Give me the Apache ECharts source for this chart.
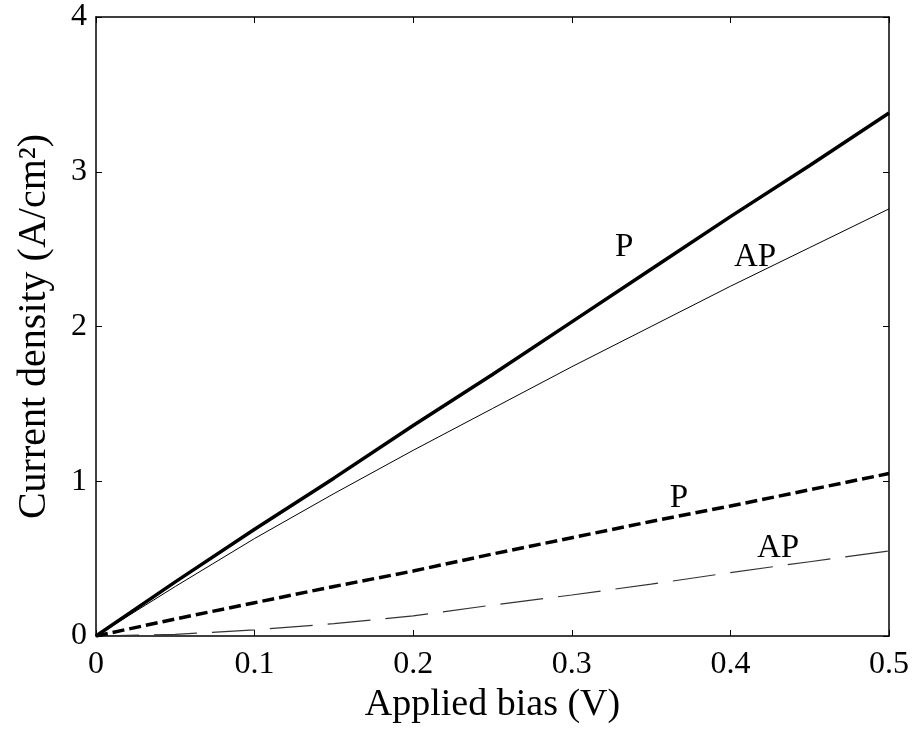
<!DOCTYPE html>
<html>
<head>
<meta charset="utf-8">
<script src="https://cdn.jsdelivr.net/npm/echarts@6/dist/echarts.min.js"></script>
<style>
html,body{margin:0;padding:0;background:#fff;}
#chart{width:916px;height:729px;}
</style>
</head>
<body>
<div id="chart"></div>
<script>
// Applied bias (V)
var biasV = [0, 0.05, 0.1, 0.15, 0.2, 0.25, 0.3, 0.35, 0.4, 0.45, 0.5];
// Current density (A/cm^2)
var solidP  = [0, 0.35, 0.69, 1.02, 1.36, 1.69, 2.03, 2.37, 2.71, 3.04, 3.38];
var solidAP = [0, 0.32, 0.63, 0.92, 1.20, 1.47, 1.74, 2.00, 2.26, 2.51, 2.76];
var dashP   = [0, 0.11, 0.215, 0.32, 0.42, 0.53, 0.635, 0.74, 0.84, 0.945, 1.05];
var dashAP  = [0, 0.01, 0.04, 0.08, 0.13, 0.20, 0.265, 0.335, 0.41, 0.48, 0.55];
// curve annotations: [bias, density, text]
var annotations = [
  [0.333, 2.51, 'P'],
  [0.4155, 2.45, 'AP'],
  [0.3676, 0.89, 'P'],
  [0.43, 0.565, 'AP']
];
var xTicks = {min: 0, max: 0.5, interval: 0.1};
var yTicks = {min: 0, max: 4, interval: 1};

function pairs(xs, ys){ return xs.map(function(x,i){ return [x, ys[i]]; }); }

var font = '"Liberation Serif", "Times New Roman", serif';
var chart = echarts.init(document.getElementById('chart'), null, {renderer:'canvas'});

function mirrorAxis(pos){
  var isX = pos === 'top';
  return {
    type:'value', position: pos,
    min: isX ? xTicks.min : yTicks.min,
    max: isX ? xTicks.max : yTicks.max,
    interval: isX ? xTicks.interval : yTicks.interval,
    axisLine:{show:true, onZero:false, lineStyle:{color:'#000', width:1.5}},
    axisTick:{show:true, inside:true, length:6, lineStyle:{color:'#000', width:1}},
    axisLabel:{show:false},
    splitLine:{show:false}
  };
}

chart.setOption({
  animation:false,
  backgroundColor:'#fff',
  grid:{left:96, top:17, right:27, bottom:88, containLabel:false},
  xAxis:[{
    type:'value', position:'bottom',
    min:xTicks.min, max:xTicks.max, interval:xTicks.interval,
    name:'Applied bias (V)', nameLocation:'middle', nameGap:50,
    nameTextStyle:{fontFamily:font, fontSize:38, color:'#000'},
    axisLine:{show:true, onZero:false, lineStyle:{color:'#000', width:1.5}},
    axisTick:{show:true, inside:true, length:6, lineStyle:{color:'#000', width:1}},
    axisLabel:{fontFamily:font, fontSize:32, color:'#000', margin:13,
      formatter:function(v){ return String(Math.round(v*10)/10); }},
    splitLine:{show:false}
  }, mirrorAxis('top')],
  yAxis:[{
    type:'value', position:'left',
    min:yTicks.min, max:yTicks.max, interval:yTicks.interval,
    name:'Current density (A/cm²)', nameLocation:'middle', nameGap:42,
    nameTextStyle:{fontFamily:font, fontSize:40, color:'#000'},
    axisLine:{show:true, onZero:false, lineStyle:{color:'#000', width:1.5}},
    axisTick:{show:true, inside:true, length:6, lineStyle:{color:'#000', width:1}},
    axisLabel:{fontFamily:font, fontSize:32, color:'#000', margin:9},
    splitLine:{show:false}
  }, mirrorAxis('right')],
  series:[
    {type:'line', data:pairs(biasV, solidP), symbol:'none', z:5,
     lineStyle:{color:'#000', width:3.5}},
    {type:'line', data:pairs(biasV, solidAP), symbol:'none', z:4,
     lineStyle:{color:'#000', width:1}},
    {type:'line', data:pairs(biasV, dashP), symbol:'none', z:4,
     lineStyle:{color:'#000', width:3.5, type:[12,5]}},
    {type:'line', data:pairs(biasV, dashAP), symbol:'none', z:3,
     lineStyle:{color:'#333', width:1.2, type:[43,15]}},
    {type:'scatter', symbolSize:0, z:6, itemStyle:{color:'#000', opacity:1},
     data:annotations.map(function(a){ return {value:[a[0], a[1]], name:a[2]}; }),
     label:{show:true, position:'inside', formatter:'{b}', fontFamily:font, fontSize:33,
       color:'#000', textBorderWidth:0, opacity:1},
     silent:true}
  ]
});
</script>
</body>
</html>
